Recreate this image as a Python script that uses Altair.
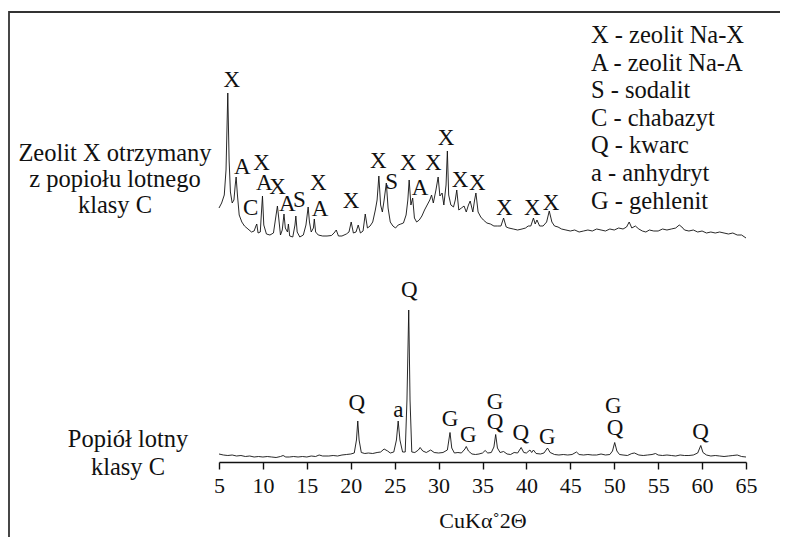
import altair as alt
import pandas as pd

# ---------------- data ----------------
# Bottom pattern: fly ash class C (2theta, intensity a.u.)
fly_theta = [5.0, 5.5, 6.0, 6.5, 7.0, 7.5, 8.0, 8.5, 9.0, 9.5, 10.0, 10.5, 11.0, 11.5, 12.0, 12.3, 12.6,
             13.0, 13.5, 14.0, 14.5, 15.0, 15.5, 16.0, 16.4, 16.8, 17.5, 18.0, 18.5, 19.0, 19.5, 20.0,
             20.4, 20.65, 20.8, 20.95, 21.2, 21.6, 22.0, 22.5, 23.0, 23.4, 23.8, 24.2, 24.5, 24.9,
             25.2, 25.4, 25.6, 25.9, 26.2, 26.4, 26.6, 26.75, 26.95, 27.3, 27.7, 27.9, 28.2, 28.6,
             29.1, 29.5, 30.0, 30.5, 31.0, 31.3, 31.5, 31.8, 32.2, 32.6, 33.0, 33.15, 33.4, 33.8,
             34.2, 34.6, 35.0, 35.3, 35.6, 36.0, 36.3, 36.5, 36.7, 37.0, 37.4, 37.8, 38.2, 38.6,
             39.0, 39.4, 39.7, 40.0, 40.4, 40.6, 40.8, 41.1, 41.6, 42.0, 42.4, 42.7, 43.2, 43.7,
             44.2, 44.7, 45.2, 45.7, 46.0, 46.5, 47.0, 47.5, 48.0, 48.5, 49.0, 49.5, 49.8, 50.05,
             50.3, 50.6, 51.0, 51.5, 52.0, 52.3, 52.8, 53.3, 53.8, 54.3, 54.7, 55.0, 55.5, 56.0,
             56.5, 57.0, 57.5, 58.0, 58.5, 59.0, 59.5, 59.85, 60.1, 60.5, 61.0, 61.5, 62.0, 62.5,
             63.0, 63.5, 64.0, 64.5, 65.0]
fly_int = [8, 7, 6.5, 7, 6, 6.5, 5.5, 6, 5, 5.5, 5, 5.5, 5, 4.5, 5.5, 6.5, 5,
           5, 5.5, 5, 5.5, 5, 6, 5.5, 7, 6, 6, 6.5, 6, 7, 7.5, 8,
           9, 22, 41, 22, 9.5, 8.5, 9, 8.5, 9.5, 10, 13, 11, 9, 10,
           22, 41, 22, 10, 10, 62, 152, 62, 10, 9.5, 12, 14.5, 11, 9.5,
           12, 9.5, 9, 9.5, 12, 29.5, 14, 9, 9.5, 9, 13, 15.5, 11, 8,
           7.5, 8, 9, 11.5, 9, 9.5, 15, 27.5, 14, 9.5, 10.5, 8, 7.5, 9.5,
           9, 14.5, 9.5, 9, 12, 9.5, 12, 8.5, 8, 9, 14, 9.5, 7.5, 7,
           7.5, 7, 7.5, 10, 7.5, 7, 7.5, 7, 7, 8, 7, 7.5, 11, 19.5,
           11, 7.5, 7, 6.5, 8.5, 9, 7, 6.5, 7, 7.5, 8.5, 7, 6.5, 7,
           6.5, 6, 7, 6.5, 6.5, 7, 9, 16.5, 9.5, 7, 6, 6.5, 6, 5.5,
           6, 6.5, 7, 5.5, 5]

# Top pattern: zeolite X from fly ash (2theta, intensity a.u., shown stacked)
zeo_theta = [5.0, 5.3, 5.6, 5.8, 6.0, 6.15, 6.3, 6.5, 6.7, 6.85, 6.95, 7.1, 7.3, 7.6, 7.9, 8.3, 8.7,
             9.0, 9.2, 9.3, 9.45, 9.7, 9.85, 9.95, 10.1, 10.4, 10.8, 11.2, 11.5, 11.65, 11.8, 12.0,
             12.2, 12.4, 12.55, 12.8, 12.9, 13.05, 13.4, 13.65, 13.75, 13.9, 14.2, 14.6, 14.9,
             15.15, 15.3, 15.5, 15.75, 15.85, 16.0, 16.3, 16.8, 17.3, 17.8, 18.1, 18.35, 18.6,
             19.0, 19.5, 19.8, 20.05, 20.3, 20.6, 20.85, 21.1, 21.4, 21.65, 21.9, 22.2, 22.5,
             22.8, 23.0, 23.2, 23.4, 23.6, 23.8, 24.05, 24.25, 24.5, 24.8, 25.1, 25.4, 25.7,
             26.0, 26.3, 26.5, 26.65, 26.85, 27.05, 27.25, 27.5, 27.8, 28.1, 28.4, 28.7, 29.0,
             29.2, 29.4, 29.7, 29.95, 30.15, 30.4, 30.6, 30.85, 31.0, 31.15, 31.4, 31.7, 31.9,
             32.07, 32.3, 32.6, 32.9, 33.15, 33.4, 33.6, 33.9, 34.1, 34.25, 34.5, 34.8, 35.1,
             35.5, 35.9, 36.3, 36.7, 37.1, 37.4, 37.7, 38.0, 38.5, 39.0, 39.5, 39.9, 40.2, 40.5,
             40.8, 41.0, 41.2, 41.5, 41.9, 42.3, 42.6, 42.9, 43.2, 43.6, 44.0, 44.5, 45.0, 45.5,
             46.0, 46.5, 47.0, 47.5, 48.0, 48.5, 49.0, 49.5, 50.0, 50.5, 51.0, 51.4, 51.7, 52.0,
             52.4, 52.8, 53.2, 53.6, 54.0, 54.5, 55.0, 55.5, 56.0, 56.5, 57.0, 57.4, 57.7, 58.0,
             58.5, 59.0, 59.5, 60.0, 60.5, 61.0, 61.5, 62.0, 62.5, 63.0, 63.5, 64.0, 64.5, 65.0]
zeo_int = [254, 259, 267, 292, 369, 302, 270, 259, 262, 277, 285, 267, 247, 240, 236, 233, 230,
           231, 236, 238, 229, 230, 252, 266, 237, 228, 227, 229, 247, 256, 244, 227,
           232, 248, 234, 230, 238, 226, 225, 237, 246, 230, 225, 227, 237,
           255, 240, 230, 234, 243, 230, 227, 226, 226, 226.5, 229, 232, 226,
           226, 228, 230, 240, 229, 230, 237, 229, 231, 248, 234, 236, 240,
           252, 262, 286, 257, 250, 262, 279, 254, 240, 236, 234, 237, 238,
           239, 247, 262, 282, 257, 264, 244, 240, 242, 246, 252, 257, 262,
           267, 259, 272, 285, 266, 269, 257, 277, 311, 267, 257, 255, 262,
           272, 252, 254, 256, 250, 257, 261, 250, 262, 269, 250, 245, 242,
           239, 238, 236, 236, 236, 244, 235, 234, 233, 232, 233, 234, 236, 236,
           244, 238, 242, 236, 236, 240, 251, 240, 236, 235, 233, 232, 231, 232,
           230, 231, 232, 231, 233, 232, 231, 233, 232, 234, 233, 235, 240, 234,
           236, 233, 231, 230, 232, 231, 231, 233, 232, 233, 234, 237, 235, 232,
           231, 232, 230, 231, 229, 230, 229, 230, 229, 228, 229, 227, 227, 224]

# Phase labels on the zeolite pattern
zeo_lab_text = ["X", "A", "X", "C", "A", "X", "A", "S", "X", "A", "X", "X", "S", "X", "A", "X",
                "X", "X", "X", "X", "X", "X"]
zeo_lab_theta = [6.45, 7.65, 9.86, 8.61, 10.16, 11.68, 12.78, 14.14, 16.31, 16.5, 20.03, 23.14,
                 24.66, 26.55, 27.89, 29.4, 30.85, 32.44, 34.41, 37.48, 40.67, 42.8]
zeo_lab_int = [382, 295, 299, 254, 279, 275, 258, 262, 279, 253, 261, 301,
               280, 299, 274, 299, 324, 282, 279, 254, 254, 259]

# Phase labels on the fly-ash pattern
fly_lab_text = ["Q", "a", "Q", "G", "G", "G", "Q", "Q", "G", "G", "Q", "Q"]
fly_lab_theta = [20.68, 25.41, 26.67, 31.3, 33.38, 36.42, 36.42, 39.35, 42.38, 49.89, 50.09, 59.84]
fly_lab_int = [59, 52, 172, 43, 27, 60, 40, 29, 25, 56, 34, 30]

tick_values = [5, 10, 15, 20, 25, 30, 35, 40, 45, 50, 55, 60, 65]
x_title = "CuKα˚2Θ"
legend_lines = ["X - zeolit Na-X", "A - zeolit Na-A", "S - sodalit", "C - chabazyt",
                "Q - kwarc", "a - anhydryt", "G - gehlenit"]
top_name = ["Zeolit X otrzymany", "z popiołu lotnego", "klasy C"]
bottom_name = ["Popiół lotny", "klasy C"]

# ---------------- chart ----------------
FONT = "'Liberation Serif', 'DejaVu Serif', serif"
INK = "#111111"

df = pd.concat([
    pd.DataFrame({"theta": fly_theta, "i": fly_int, "s": "fly"}),
    pd.DataFrame({"theta": zeo_theta, "i": zeo_int, "s": "zeo"}),
])
labs = pd.concat([
    pd.DataFrame({"theta": zeo_lab_theta, "i": zeo_lab_int, "t": zeo_lab_text}),
    pd.DataFrame({"theta": fly_lab_theta, "i": fly_lab_int, "t": fly_lab_text}),
])

xs = alt.Scale(domain=[5, 65], nice=False, zero=False)
ys = alt.Scale(domain=[0, 451], nice=False, zero=False)

lines = alt.Chart(df).mark_line(color=INK, strokeWidth=0.9).encode(
    x=alt.X("theta:Q", scale=xs,
            axis=alt.Axis(values=tick_values, title=x_title, grid=False, labelFlush=False,
                          tickSize=7, tickWidth=1.4, tickColor=INK, domainColor=INK,
                          domainWidth=1.4, labelPadding=6, labelFont=FONT, labelFontSize=22,
                          labelColor=INK, titleFont=FONT, titleFontSize=22,
                          titleFontWeight="normal", titleColor=INK, titleY=58,
                          titleBaseline="middle")),
    y=alt.Y("i:Q", scale=ys, axis=None),
    detail="s:N",
)

peak_text = alt.Chart(labs).mark_text(font=FONT, fontSize=23, color=INK, baseline="middle",
                                      align="center").encode(
    x=alt.X("theta:Q", scale=xs), y=alt.Y("i:Q", scale=ys), text="t:N")

one = pd.DataFrame({"k": [0]})


def note(text, px, py, align):
    return alt.Chart(one).mark_text(font=FONT, fontSize=24.5, color=INK, baseline="middle",
                                    align=align, text=text).encode(
        x=alt.value(px), y=alt.value(py))


notes = []
for k, t in enumerate(legend_lines):
    notes.append(note(t, 372, 25 + 27.6 * k, "left"))
for k, t in enumerate(top_name):
    notes.append(note(t, -104, 143 + 25.8 * k, "center"))
for k, t in enumerate(bottom_name):
    notes.append(note(t, -91, 429 + 28 * k, "center"))

frame = alt.Chart(one).mark_rect(filled=False, stroke="#333333", strokeWidth=1.8).encode(
    x=alt.value(-210), x2=alt.value(900), y=alt.value(1), y2=alt.value(900))

chart = alt.layer(frame, lines, peak_text, *notes).properties(
    width=527, height=451,
    padding={"left": 211, "top": 3, "right": 34, "bottom": 75},
    autosize=alt.AutoSizeParams(type="none"),
).configure_view(stroke=None)

chart.save("out.html", embed_options={"renderer": "svg", "actions": False})
